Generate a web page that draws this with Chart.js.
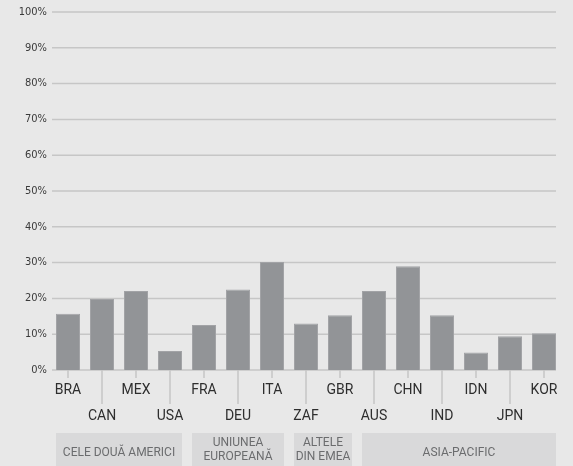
<!DOCTYPE html>
<html>
<head>
<meta charset="utf-8">
<script src="https://cdn.jsdelivr.net/npm/chart.js@4.4.1/dist/chart.umd.min.js"></script>
<style>
html,body{margin:0;padding:0;background:#e8e8e8;}
canvas{display:block;}
</style>
</head>
<body>
<canvas id="c" width="573" height="466"></canvas>
<script>
const categories = ['BRA','CAN','MEX','USA','FRA','DEU','ITA','ZAF','GBR','AUS','CHN','IND','IDN','JPN','KOR'];
const values = [15.7,19.8,22.1,5.3,12.6,22.5,30.2,13.0,15.3,22.1,29.0,15.3,4.9,9.4,10.3];
const groupLabels = [['CELE DOUĂ AMERICI'],['UNIUNEA','EUROPEANĂ'],['ALTELE','DIN EMEA'],['ASIA-PACIFIC']];
const groupSizes = [4,3,2,6];
const yTicks = [0,10,20,30,40,50,60,70,80,90,100];

const BG = '#e8e8e8';
const BAR = '#929497';
const GRID = '#c6c6c6';
const BOX = '#d9d9da';

const decor = {
  id: 'decor',
  beforeDraw(chart) {
    const ctx = chart.ctx;
    ctx.save();
    ctx.fillStyle = BG;
    ctx.fillRect(0, 0, chart.width, chart.height);
    ctx.restore();
  },
  beforeDatasetsDraw(chart) {
    const ctx = chart.ctx;
    const ys = chart.scales.y;
    const bars = chart.getDatasetMeta(0).data;
    const last = bars[bars.length - 1];
    const right = last.x + last.width / 2;
    const left = chart.chartArea.left + 1;
    ctx.save();
    ctx.strokeStyle = GRID;
    ctx.lineWidth = 1.5;
    yTicks.forEach(v => {
      const y = ys.getPixelForValue(v);
      ctx.beginPath();
      ctx.moveTo(left, y);
      ctx.lineTo(right, y);
      ctx.stroke();
    });
    ctx.restore();
  },
  afterDatasetsDraw(chart) {
    const ctx = chart.ctx;
    const xs = chart.scales.x;
    const bottom = chart.chartArea.bottom;
    const bars = chart.getDatasetMeta(0).data;
    ctx.save();
    ctx.strokeStyle = GRID;
    ctx.lineWidth = 1.5;
    ctx.fillStyle = '#2e2e2e';
    ctx.font = '14px Roboto, "Open Sans", sans-serif';
    ctx.textAlign = 'center';
    ctx.textBaseline = 'middle';
    categories.forEach((c, i) => {
      const x = xs.getPixelForValue(i);
      const low = i % 2 === 1;
      ctx.beginPath();
      ctx.moveTo(x, bottom);
      ctx.lineTo(x, bottom + (low ? 34 : 8));
      ctx.stroke();
      ctx.fillText(c, x, bottom + (low ? 46 : 20));
    });
    let start = 0;
    const boxTop = bottom + 63;
    ctx.font = '12px Roboto, "Open Sans", sans-serif';
    groupSizes.forEach((n, g) => {
      const b0 = bars[start], b1 = bars[start + n - 1];
      const x0 = b0.x - b0.width / 2, x1 = b1.x + b1.width / 2;
      ctx.fillStyle = BOX;
      ctx.fillRect(x0, boxTop, x1 - x0, chart.height - boxTop);
      ctx.fillStyle = '#6b6c6e';
      const lines = groupLabels[g];
      const cy = boxTop + (lines.length > 1 ? 17 : 20);
      const lh = 14;
      lines.forEach((t, k) => {
        ctx.fillText(t, (x0 + x1) / 2, cy + (k - (lines.length - 1) / 2) * lh);
      });
      start += n;
    });
    ctx.restore();
  }
};

new Chart(document.getElementById('c'), {
  type: 'bar',
  data: {
    labels: categories,
    datasets: [{
      data: values,
      backgroundColor: BAR,
      borderColor: '#a2a3a6',
      borderWidth: 1,
      barPercentage: 0.706,
      categoryPercentage: 1
    }]
  },
  options: {
    responsive: false,
    animation: false,
    layout: { padding: { top: 12, right: 12, bottom: 96, left: 0 } },
    plugins: { legend: { display: false }, tooltip: { enabled: false } },
    scales: {
      x: { display: false, offset: true },
      y: {
        min: 0, max: 100,
        afterFit(s) { s.width = 51; },
        afterBuildTicks(s) { s.ticks = yTicks.map(v => ({ value: v })); },
        grid: { display: false, drawTicks: false },
        border: { display: false },
        ticks: {
          padding: 4,
          color: '#3a3a3a',
          font: { family: '"Liberation Sans Narrow", "DejaVu Sans Condensed", sans-serif', size: 11 },
          callback: v => v + '%'
        }
      }
    }
  },
  plugins: [decor]
});
</script>
</body>
</html>
